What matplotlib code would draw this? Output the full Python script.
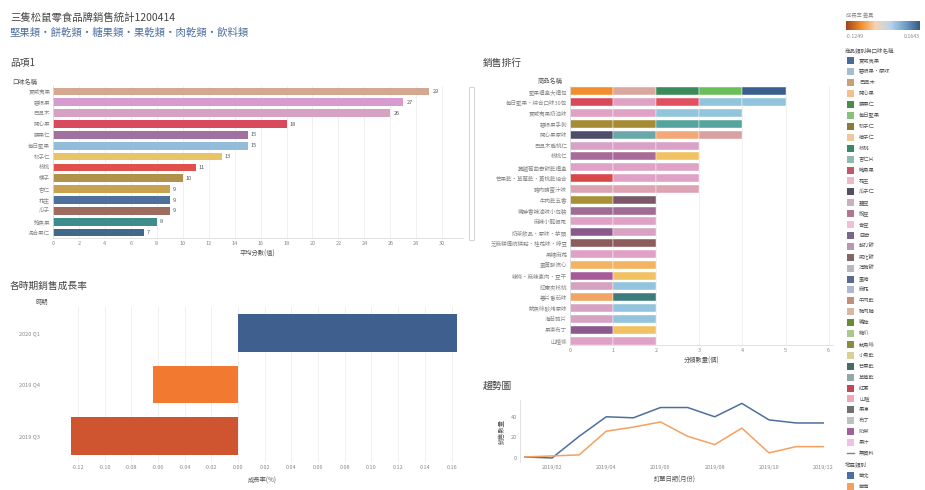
import numpy as np
import matplotlib
matplotlib.use("Agg")
import matplotlib.pyplot as plt
from matplotlib.patches import Rectangle
from matplotlib.colors import LinearSegmentedColormap

plt.rcParams['font.family'] = ['Noto Sans CJK TC', 'DejaVu Sans']

W, H = 925, 490

# ---- data ----
title1 = "三隻松鼠零食品牌銷售統計1200414"
title2 = "堅果類・餅乾類・糖果類・果乾類・肉乾類・飲料類"

flavors = ["夏威夷果", "碧根果", "巴旦木", "開心果", "腰果仁", "每日堅果", "松子仁",
           "核桃", "榛子", "杏仁", "花生", "瓜子", "鮑魚果", "混合果仁"]
flavor_vals = [29, 27, 26, 18, 15, 15, 13, 11, 10, 9, 9, 9, 8, 7]
flavor_colors = ['#d4a890', '#d79ccf', '#d6a2c4', '#d84b5e', '#a0709f', '#92bcd9', '#e9c466',
                 '#e0504c', '#b0924a', '#c8a24e', '#4f6f9c', '#9c6c5e', '#3f8c8c', '#40698a']

products = ["堅果禮盒大禮包", "每日堅果・綜合口味30包", "夏威夷果奶油味", "碧根果手剝", "開心果原味",
            "巴旦木扁桃仁", "核桃仁", "蔓越莓曲奇餅乾禮盒", "芒果乾・草莓乾・黃桃乾組合", "豬肉脯蜜汁味",
            "牛肉乾五香", "鴨脖香辣滷味小包裝", "麻辣小龍蝦尾", "奶茶飲品・原味・芋頭", "芝麻糕傳統糕點・桂花味・綠豆",
            "黑糖麻花", "蛋黃酥流心", "辣條・麻辣素肉・豆干", "紅棗夾核桃", "薯片番茄味",
            "魷魚絲碳烤原味", "海苔脆片", "果凍布丁", "山楂條"]
product_segments = [
    ['#f28e2b', '#d8a8a0', '#3a8a5a', '#6abf5a', '#3b5f8f'],
    ['#d9485a', '#dfa2c6', '#e0505e', '#92c4de', '#92c4de'],
    ['#dfa2c6', '#dfa2c6', '#92c4de', '#92c4de'],
    ['#a58c34', '#a58c34', '#56a3a0', '#56a3a0'],
    ['#4e4e6a', '#6aa8a8', '#f2a878', '#d8a0a0'],
    ['#d9a0c8', '#d9a0c8', '#d9a0c8'],
    ['#a86a98', '#a86a98', '#f0c262'],
    ['#dfa2c6', '#dfa2c6', '#dfa2c6'],
    ['#d84848', '#dfa2c6', '#dfa2c6'],
    ['#dca4b2', '#dca4b2', '#dca4b2'],
    ['#a89036', '#7a5a6a'],
    ['#9e6c94', '#9e6c94'],
    ['#dfa2c6', '#dfa2c6'],
    ['#8a5a8c', '#d8a2c2'],
    ['#8c5c5c', '#8c5c5c'],
    ['#dfa2c6', '#dfa2c6'],
    ['#f2b462', '#f2b462'],
    ['#a65a9a', '#f0c262'],
    ['#d6a2c2', '#92c4de'],
    ['#f2a462', '#3c7c7c'],
    ['#d6a2c2', '#92c4de'],
    ['#d6a2c2', '#92c4de'],
    ['#8a5a8c', '#f0c262'],
    ['#dfa2c6', '#dfa2c6'],
]

periods = ["2020 Q1", "2019 Q4", "2019 Q3"]
growth = [0.164, -0.064, -0.125]
growth_colors = ['#3f5f8f', '#f27a30', '#cf5530']

months = ["2019/01", "2019/02", "2019/03", "2019/04", "2019/05", "2019/06",
          "2019/07", "2019/08", "2019/09", "2019/10", "2019/11", "2019/12"]
north = [1, 0, 21, 40, 39, 49, 49, 40, 53, 37, 34, 34]
south = [1, 2, 3, 26, 30, 35, 21, 13, 29, 5, 11, 11]

legend_names = ["夏威夷果", "碧根果・原味", "巴旦木", "開心果", "腰果仁", "每日堅果", "松子仁", "榛子仁",
                "核桃", "杏仁片", "鮑魚果", "花生", "瓜子仁", "蠶豆", "豌豆", "青豆", "曲奇", "蘇打餅",
                "威化餅", "薄脆餅", "蛋捲", "麻花", "牛肉乾", "豬肉脯", "鴨脖", "雞爪", "魷魚絲",
                "小魚乾", "芒果乾", "草莓乾", "紅棗", "山楂", "果凍", "布丁", "奶茶", "果汁"]
legend_colors = ['#4a6a9a', '#a8bcd0', '#c8a078', '#f0c090', '#4a8c4a', '#88c080', '#8a7a3a', '#f0c8a0',
                 '#3a8a6a', '#90bab0', '#c05868', '#f0b8c8', '#505060', '#c8b0c0', '#b07890', '#f0c0d8',
                 '#7a6888', '#b898b0', '#806868', '#b8b8c0', '#5a6a90', '#b0b8d0', '#c09078', '#d8b8a0',
                 '#6a8a3a', '#a8c890', '#8a8a40', '#d8d098', '#4a6a6a', '#90a8a8', '#c04858', '#f0a8b8',
                 '#707070', '#c0c0c0', '#a0609a', '#f0c0e0']
region_names = ["華北", "華南"]
region_colors = ['#4e6e9e', '#f5a060']

TXT = '#555555'
LIGHT = '#888888'
GRID = '#eeeeee'


def px_axes(fig, x0, y0, x1, y1):
    return fig.add_axes([x0 / W, 1 - y1 / H, (x1 - x0) / W, (y1 - y0) / H])


def clean(ax):
    for s in ['top', 'right']:
        ax.spines[s].set_visible(False)
    for s in ['left', 'bottom']:
        ax.spines[s].set_color('#dddddd')
        ax.spines[s].set_linewidth(0.6)
    ax.tick_params(length=0, labelsize=4, colors=LIGHT, pad=2)


fig = plt.figure(figsize=(W / 100, H / 100), dpi=100)
fig.patch.set_facecolor('white')

fig.text(10 / W, 1 - 18 / H, title1, fontsize=7.5, color='#444444', va='center')
fig.text(10 / W, 1 - 33 / H, title2, fontsize=7.5, color='#4e6e9e', va='center')

# ---- top left: horizontal bars ----
ax1 = px_axes(fig, 53, 86, 463, 238)
y = np.arange(len(flavors))
ax1.barh(y, flavor_vals, height=0.72, color=flavor_colors)
ax1.set_ylim(len(flavors) - 0.5, -0.5)
ax1.set_xlim(0, 31.6)
ax1.set_xticks(np.arange(0, 32, 2))
ax1.set_yticks(y)
ax1.set_yticklabels(flavors)
for i, v in enumerate(flavor_vals):
    ax1.text(v + 0.25, i, str(v), fontsize=4, color=TXT, va='center')
ax1.grid(axis='x', color=GRID, lw=0.6)
ax1.set_axisbelow(True)
clean(ax1)
ax1.set_xlabel("平均分數(值)", fontsize=4.5, color=TXT, labelpad=3)
fig.text(10 / W, 1 - 63 / H, "品項1", fontsize=7, color='#444444', va='center')
fig.text(12 / W, 1 - 82 / H, "口味名稱", fontsize=4.5, color=TXT, va='center')

# ---- top right: stacked bars ----
ax2 = px_axes(fig, 570, 86, 833, 345)
for i, segs in enumerate(product_segments):
    left = 0
    for c in segs:
        ax2.barh(i, 1, left=left, height=0.74, color=c, edgecolor='white', linewidth=0.3)
        left += 1
ax2.set_ylim(23.4, -0.5)
ax2.set_xlim(0, 6.1)
ax2.set_xticks(np.arange(0, 7, 1))
ax2.set_yticks(np.arange(len(products)))
ax2.set_yticklabels(products)
ax2.grid(axis='x', color=GRID, lw=0.6)
ax2.set_axisbelow(True)
clean(ax2)
ax2.set_xlabel("分類數量(個)", fontsize=4.5, color=TXT, labelpad=3)
fig.text(483 / W, 1 - 63 / H, "銷售排行", fontsize=7, color='#444444', va='center')
fig.text(538 / W, 1 - 81 / H, "商品名稱", fontsize=4.5, color=TXT, va='center')
fig.patches.append(Rectangle((469 / W, 1 - 240 / H), 5 / W, 153 / H, transform=fig.transFigure,
                             facecolor='white', edgecolor='#cccccc', lw=0.6))

# ---- bottom left: growth ----
ax3 = px_axes(fig, 65, 307, 460, 462)
ax3.barh(np.arange(len(periods)), growth, height=0.73, color=growth_colors)
ax3.set_ylim(2.5, -0.5)
ax3.set_xlim(-0.1296, 0.1663)
ticks = np.round(np.arange(-0.12, 0.161, 0.02), 2)
ax3.set_xticks(ticks)
ax3.set_xticklabels(["%.2f" % t for t in ticks])
ax3.set_yticks(np.arange(len(periods)))
ax3.set_yticklabels(periods)
ax3.grid(axis='x', color=GRID, lw=0.6)
ax3.set_axisbelow(True)
clean(ax3)
ax3.spines['left'].set_visible(False)
ax3.spines['bottom'].set_visible(False)
ax3.tick_params(axis='y', pad=18)
ax3.set_xlabel("成長率(%)", fontsize=4.5, color=TXT, labelpad=5)
fig.text(10 / W, 1 - 286 / H, "各時期銷售成長率", fontsize=7, color='#444444', va='center')
fig.text(36 / W, 1 - 302 / H, "時期", fontsize=4.5, color=TXT, va='center')

# ---- bottom right: lines ----
ax4 = px_axes(fig, 520, 400, 830, 462)
x = np.arange(len(months))
ax4.plot(x, north, color=region_colors[0], lw=1.1)
ax4.plot(x, south, color=region_colors[1], lw=1.1)
ax4.set_xlim(-0.18, 11.25)
ax4.set_ylim(-3.9, 56.3)
ax4.set_yticks([0, 20, 40])
ax4.set_xticks(x[1::2])
ax4.set_xticklabels(months[1::2])
clean(ax4)
ax4.spines['bottom'].set_visible(False)
ax4.set_ylabel("銷售數量", fontsize=4.5, color=TXT, labelpad=4)
ax4.set_xlabel("訂單日期(月份)", fontsize=4.5, color=TXT, labelpad=4)
fig.text(483 / W, 1 - 386 / H, "趨勢圖", fontsize=7, color='#444444', va='center')

# ---- legend on the right ----
axl = px_axes(fig, 838, 0, 925, 490)
axl.set_xlim(838, 925)
axl.set_ylim(490, 0)
axl.axis('off')
cmap = LinearSegmentedColormap.from_list('ob', ['#a0461e', '#f28e2b', '#f5d3b5', '#bcd4e8', '#6fa1cc', '#3b5b85'])
grad = np.linspace(0, 1, 100).reshape(1, -1)
axl.imshow(grad, cmap=cmap, aspect='auto', extent=(846, 920, 30, 21))
axl.text(846, 15, "成長率 差異", fontsize=3.8, color=LIGHT, va='center')
axl.text(846, 36, "-0.1249", fontsize=3.8, color=LIGHT, va='center')
axl.text(920, 36, "0.1643", fontsize=3.8, color=LIGHT, va='center', ha='right')
axl.text(845, 50, "商品類別與口味名稱", fontsize=4, color=TXT, va='center')
for i, (name, c) in enumerate(zip(legend_names, legend_colors)):
    yy = 61 + i * 10.9
    axl.add_patch(Rectangle((847, yy - 3.5), 7, 7, facecolor=c, edgecolor='none'))
    axl.text(859, yy, name, fontsize=3.8, color=TXT, va='center')
yy = 61 + len(legend_names) * 10.9
axl.plot([847, 854], [yy, yy], color='#8a7a9a', lw=1)
axl.text(859, yy, "無資料", fontsize=3.8, color=TXT, va='center')
axl.text(845, 464, "地區類別", fontsize=4, color=TXT, va='center')
for i, (name, c) in enumerate(zip(region_names, region_colors)):
    yy = 475 + i * 11
    axl.add_patch(Rectangle((847, yy - 3.5), 7, 7, facecolor=c, edgecolor='none'))
    axl.text(859, yy, name, fontsize=3.8, color=TXT, va='center')

fig.savefig("out.png", dpi=100, facecolor='white')
